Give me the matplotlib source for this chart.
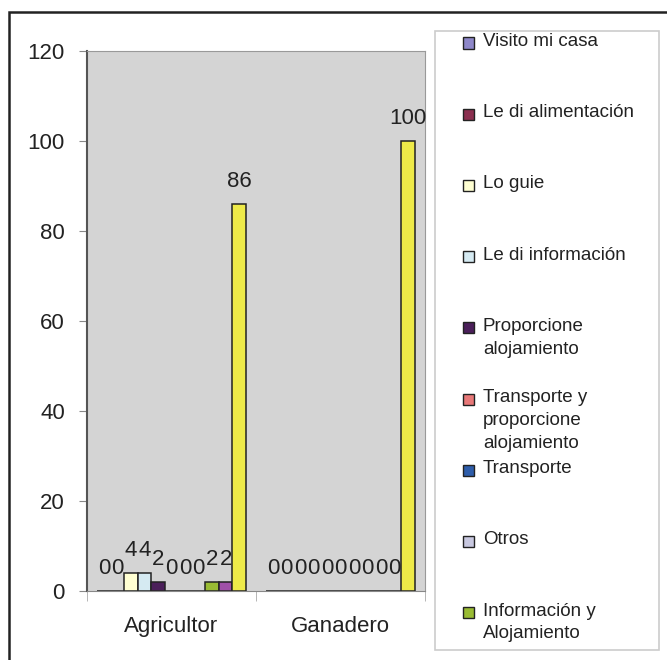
import matplotlib
matplotlib.use('Agg')
import matplotlib.pyplot as plt
from matplotlib.patches import Rectangle
import numpy as np

plt.rcParams['font.family'] = ['Liberation Sans', 'DejaVu Sans']

categories = ['Agricultor', 'Ganadero']
series = ['Visito mi casa', 'Le di alimentación', 'Lo guie', 'Le di información',
          'Proporcione\nalojamiento', 'Transporte y\nproporcione\nalojamiento',
          'Transporte', 'Otros', 'Información y\nAlojamiento', 'serie 10', 'serie 11']
agricultor = [0, 0, 4, 4, 2, 0, 0, 0, 2, 2, 86]
ganadero = [0, 0, 0, 0, 0, 0, 0, 0, 0, 0, 100]
colors = ['#8E87C9', '#8B2F4F', '#FFFFD2', '#D5EAF2', '#4B1F5A', '#E87878',
          '#2E5DAA', '#C8C8E0', '#99BB33', '#A050A8', '#EEEA48']
n_legend = 9  # the rest of the legend is cut off in the original

fig = plt.figure(figsize=(6.67, 6.6), dpi=100)
ax = fig.add_axes([87/667, 1 - 591/660, (425 - 87)/667, (591 - 51)/660])
ax.set_facecolor('#D4D4D4')

x = np.arange(len(categories))
w = 0.08
for i, name in enumerate(series):
    vals = [agricultor[i], ganadero[i]]
    pos = x + (i - 5) * w
    bars = ax.bar(pos, vals, w, color=colors[i], edgecolor='#222222', linewidth=1.1, label=name)
    for b, v in zip(bars, vals):
        ax.annotate(str(v), (b.get_x() + b.get_width() / 2, v), xytext=(0, 12),
                    textcoords='offset points', ha='center', va='baseline',
                    fontsize=16, color='#222222', annotation_clip=False)

ax.set_ylim(0, 120)
ax.set_xlim(-0.5, 1.5)
ax.set_yticks(range(0, 121, 20))
ax.set_xticks(x)
ax.set_xticklabels(categories)
ax.set_xticks([-0.5, 0.5, 1.5], minor=True)
ax.tick_params(axis='y', labelsize=16, length=6, color='#888888', pad=10, labelcolor='#222222')
ax.tick_params(axis='x', which='major', labelsize=16, length=0, pad=18, labelcolor='#222222')
ax.tick_params(axis='x', which='minor', length=7, color='#AAAAAA')
for s in ['top', 'right']:
    ax.spines[s].set_color('#999999')
    ax.spines[s].set_linewidth(0.8)
ax.spines['left'].set_color('#555555')
ax.spines['left'].set_linewidth(1.5)
ax.spines['bottom'].set_color('#888888')

# outer frame (cut at right and bottom)
fig.patches.append(Rectangle((9/667, -0.1), 1.1, 1 - 12/660 + 0.1, transform=fig.transFigure,
                             fill=False, edgecolor='#222222', linewidth=1.8))

# legend box
lx0, lx1, ly0, ly1 = 435, 659, 31, 650
fig.patches.append(Rectangle((lx0/667, 1 - ly1/660), (lx1 - lx0)/667, (ly1 - ly0)/660,
                             transform=fig.transFigure, facecolor='white',
                             edgecolor='#CCCCCC', linewidth=1.2))
for i in range(n_legend):
    yc = 43 + i * 71.2
    fig.patches.append(Rectangle((463/667, 1 - (yc + 5.5)/660), 11/667, 11/660,
                                 transform=fig.transFigure, facecolor=colors[i],
                                 edgecolor='#222222', linewidth=1.0))
    fig.text(483/667, 1 - (yc - 10)/660, series[i], fontsize=13.5, va='top', ha='left',
             color='#222222', linespacing=1.45)

fig.savefig('out.png', dpi=100)
